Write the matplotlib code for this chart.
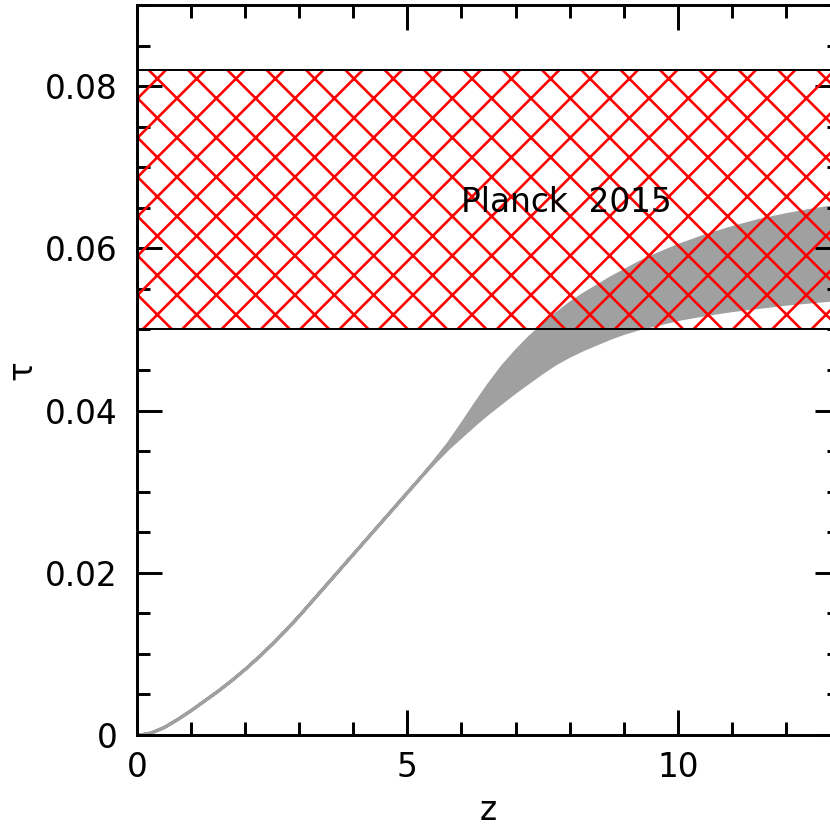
import numpy as np
import matplotlib
matplotlib.use("Agg")
import matplotlib.pyplot as plt
from matplotlib.ticker import MultipleLocator, FuncFormatter

# optical depth band
z = [0, 0.25, 0.5, 0.75, 1.0, 1.25, 1.5, 1.75, 2.0, 2.25, 2.5, 2.75,
     3.0, 3.25, 3.5, 3.75, 4.0, 4.25, 4.5, 4.75, 5.0, 5.25, 5.5, 5.75,
     6.0, 6.25, 6.5, 6.75, 7.0, 7.25, 7.5, 7.75, 8.0, 8.25, 8.5, 8.75,
     9.0, 9.25, 9.5, 9.75, 10.0, 10.5, 11.0, 11.5, 12.0, 12.5, 13.0]
tau_hi = [0, 0.0003, 0.0010, 0.0020, 0.0031, 0.0043, 0.0055, 0.0068,
          0.0082, 0.0097, 0.0113, 0.0130, 0.0148, 0.0167, 0.0186, 0.0205,
          0.0224, 0.0243, 0.0262, 0.0281, 0.0300, 0.0319, 0.0339, 0.0360,
          0.0384, 0.0409, 0.0433, 0.0455, 0.0474, 0.0491, 0.0506, 0.0520,
          0.0533, 0.0544, 0.0554, 0.0564, 0.0573, 0.0582, 0.0590, 0.0597,
          0.0604, 0.0616, 0.0626, 0.0635, 0.0642, 0.0648, 0.0653]
tau_lo = [0, 0.0003, 0.0010, 0.0020, 0.0031, 0.0043, 0.0055, 0.0068,
          0.0082, 0.0097, 0.0113, 0.0130, 0.0148, 0.0167, 0.0186, 0.0205,
          0.0224, 0.0243, 0.0262, 0.0281, 0.0300, 0.0319, 0.0337, 0.0354,
          0.0369, 0.0384, 0.0398, 0.0411, 0.0424, 0.0436, 0.0448, 0.0459,
          0.0468, 0.0476, 0.0483, 0.0490, 0.0496, 0.0501, 0.0505, 0.0509,
          0.0513, 0.0519, 0.0524, 0.0528, 0.0532, 0.0535, 0.0538]

# Planck 2015 constraint
planck_lo = 0.050
planck_hi = 0.082

plt.rcParams['hatch.linewidth'] = 0.8

dpi = 236
fig = plt.figure(figsize=(830 / dpi, 831 / dpi), dpi=dpi)
ax = fig.add_axes([137 / 830, 96 / 831, 703 / 830, 730 / 831])

ax.set_xlim(0, 13)
ax.set_ylim(0, 0.09)

grey = '#a0a0a0'
ax.fill_between(z, tau_lo, tau_hi, facecolor=grey, edgecolor=grey,
                linewidth=1.0, zorder=1)

ax.axhspan(planck_lo, planck_hi, facecolor='none', edgecolor='red',
           hatch='xx', linewidth=0, zorder=2)
ax.axhline(planck_lo, color='black', linewidth=0.6, zorder=3)
ax.axhline(planck_hi, color='black', linewidth=0.6, zorder=3)

ax.text(6.0, 0.0645, 'Planck  2015', fontsize=10, color='black', zorder=4)

ax.xaxis.set_major_locator(MultipleLocator(5))
ax.xaxis.set_minor_locator(MultipleLocator(1))
ax.yaxis.set_major_locator(MultipleLocator(0.02))
ax.yaxis.set_minor_locator(MultipleLocator(0.005))
ax.yaxis.set_major_formatter(FuncFormatter(lambda v, p: '0' if abs(v) < 1e-9 else f'{v:.2f}'))

ax.tick_params(which='both', direction='in', top=True, right=True,
               width=0.9, labelsize=10, color='black')
ax.tick_params(which='major', length=7.6)
ax.tick_params(which='minor', length=4)
ax.tick_params(axis='y', pad=6)
ax.tick_params(axis='x', pad=5)

for s in ax.spines.values():
    s.set_linewidth(0.9)

ax.set_xlabel('z', fontsize=10, labelpad=3)
ax.set_ylabel('τ', fontsize=10, labelpad=2)

fig.savefig('out.png', dpi=dpi)
